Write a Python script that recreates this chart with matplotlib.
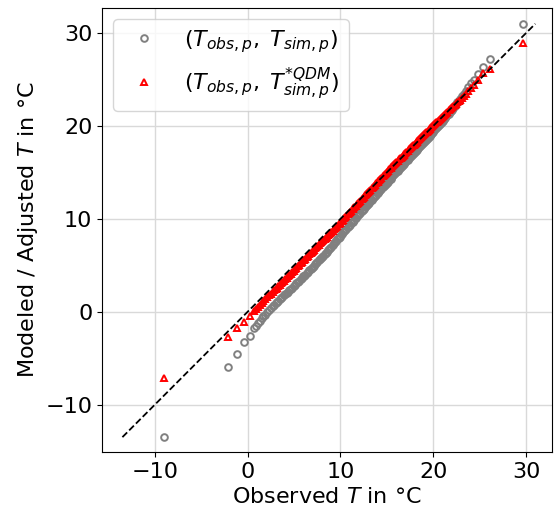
import matplotlib
matplotlib.use("Agg")
import matplotlib.pyplot as plt

obs_q = [-9.0, -2.1, -1.1, -0.4, 0.2,
         0.7, 0.9, 1.1, 1.3, 1.5, 1.7, 1.9, 2.1, 2.3, 2.5, 2.7, 2.85, 3.0, 3.15, 3.3, 3.45,
         3.6, 3.75, 3.9, 4.05, 4.2, 4.35, 4.5, 4.65, 4.8, 4.95, 5.1, 5.25, 5.4, 5.55, 5.7,
         5.85, 6.0, 6.1, 6.2, 6.35, 6.5, 6.65, 6.8, 6.9, 7.0, 7.15, 7.3, 7.4, 7.5, 7.65,
         7.8, 7.9, 8.0, 8.15, 8.3, 8.4, 8.5, 8.65, 8.8, 8.9, 9.0, 9.15, 9.3, 9.4, 9.5,
         9.65, 9.8, 9.9, 10.0, 10.15, 10.3, 10.4, 10.5, 10.65, 10.8, 10.9, 11.0, 11.15,
         11.3, 11.4, 11.5, 11.65, 11.8, 11.9, 12.0, 12.15, 12.3, 12.4, 12.5, 12.65, 12.8,
         12.9, 13.0, 13.1, 13.2, 13.35, 13.5, 13.6, 13.7, 13.85, 14.0, 14.1, 14.2, 14.3,
         14.4, 14.55, 14.7, 14.8, 14.9, 15.0, 15.1, 15.25, 15.4, 15.5, 15.6, 15.7, 15.8,
         15.9, 16.0, 16.15, 16.3, 16.4, 16.5, 16.6, 16.7, 16.8, 16.9, 17.0, 17.1, 17.25,
         17.4, 17.5, 17.6, 17.7, 17.8, 17.9, 18.0, 18.1, 18.2, 18.3, 18.4, 18.5, 18.6,
         18.7, 18.8, 18.9, 19.0, 19.1, 19.2, 19.3, 19.4, 19.5, 19.6, 19.7, 19.8, 19.9,
         20.0, 20.1, 20.2, 20.3, 20.4, 20.5, 20.6, 20.7, 20.8, 20.9, 21.0, 21.15, 21.3,
         21.4, 21.5, 21.65, 21.8, 21.9, 22.0, 22.15, 22.3, 22.45, 22.6, 22.75, 22.9, 23.1,
         23.3, 23.55, 23.8, 24.1, 24.4,
         24.8, 25.4, 26.1, 29.7]

sim_q = [-13.5, -6.0, -4.5, -3.3, -2.6,
         -1.8, -1.52, -1.25, -0.98, -0.7, -0.5, -0.3, -0.08, 0.15, 0.38, 0.6, 0.75, 0.9,
         1.05, 1.2, 1.35, 1.5, 1.62, 1.75, 1.88, 2.0, 2.15, 2.3, 2.45, 2.6, 2.75, 2.9,
         3.05, 3.2, 3.35, 3.5, 3.65, 3.8, 3.9, 4.0, 4.15, 4.3, 4.45, 4.6, 4.7, 4.8, 4.95,
         5.1, 5.22, 5.35, 5.52, 5.7, 5.8, 5.9, 6.05, 6.2, 6.32, 6.45, 6.62, 6.8, 6.9, 7.0,
         7.18, 7.36, 7.48, 7.6, 7.78, 7.96, 8.08, 8.2, 8.38, 8.55, 8.66, 8.78, 8.95, 9.12,
         9.24, 9.35, 9.52, 9.7, 9.81, 9.92, 10.1, 10.27, 10.38, 10.5, 10.68, 10.85, 10.96,
         11.07, 11.25, 11.42, 11.54, 11.65, 11.76, 11.88, 12.05, 12.22, 12.34, 12.45,
         12.62, 12.8, 12.91, 13.02, 13.13, 13.24, 13.4, 13.57, 13.68, 13.79, 13.9, 14.01,
         14.18, 14.34, 14.45, 14.56, 14.67, 14.78, 14.89, 15.0, 15.17, 15.33, 15.44, 15.55,
         15.66, 15.77, 15.88, 15.99, 16.1, 16.21, 16.38, 16.54, 16.65, 16.76, 16.87, 16.98,
         17.09, 17.2, 17.31, 17.42, 17.53, 17.64, 17.75, 17.86, 17.97, 18.08, 18.19, 18.3,
         18.41, 18.52, 18.63, 18.74, 18.85, 18.96, 19.07, 19.18, 19.29, 19.4, 19.52, 19.63,
         19.75, 19.86, 19.98, 20.09, 20.2, 20.32, 20.44, 20.55, 20.73, 20.91, 21.03, 21.15,
         21.33, 21.51, 21.63, 21.75, 21.95, 22.14, 22.34, 22.53, 22.72, 22.92, 23.19,
         23.46, 23.8, 24.15, 24.58, 25.0,
         25.6, 26.3, 27.2, 31.0]

qdm_q = [-7.1, -2.7, -1.7, -1.1, -0.45,
         0.1, 0.31, 0.52, 0.72, 0.93, 1.14, 1.34, 1.55, 1.75, 1.95, 2.15, 2.3, 2.45, 2.6,
         2.75, 2.9, 3.05, 3.2, 3.35, 3.5, 3.65, 3.8, 3.95, 4.1, 4.25, 4.42, 4.6, 4.75, 4.9,
         5.05, 5.2, 5.36, 5.52, 5.62, 5.72, 5.88, 6.03, 6.18, 6.33, 6.44, 6.55, 6.7, 6.85,
         6.96, 7.06, 7.21, 7.36, 7.46, 7.57, 7.72, 7.87, 7.98, 8.08, 8.23, 8.38, 8.48, 8.59,
         8.74, 8.89, 9.0, 9.1, 9.25, 9.4, 9.5, 9.6, 9.77, 9.93, 10.04, 10.15, 10.32, 10.48,
         10.59, 10.7, 10.87, 11.03, 11.14, 11.25, 11.42, 11.58, 11.69, 11.8, 11.97, 12.13,
         12.24, 12.35, 12.52, 12.68, 12.79, 12.9, 13.01, 13.12, 13.29, 13.45, 13.56, 13.67,
         13.84, 14.0, 14.1, 14.21, 14.32, 14.42, 14.58, 14.74, 14.84, 14.95, 15.06, 15.16,
         15.32, 15.47, 15.58, 15.68, 15.78, 15.89, 16.0, 16.1, 16.25, 16.4, 16.5, 16.6,
         16.7, 16.8, 16.9, 17.0, 17.1, 17.2, 17.35, 17.5, 17.6, 17.7, 17.8, 17.9, 18.0,
         18.1, 18.2, 18.3, 18.4, 18.5, 18.6, 18.7, 18.8, 18.9, 19.0, 19.1, 19.2, 19.3,
         19.4, 19.5, 19.6, 19.7, 19.8, 19.9, 20.0, 20.1, 20.2, 20.29, 20.38, 20.48, 20.58,
         20.67, 20.76, 20.86, 20.96, 21.05, 21.2, 21.34, 21.44, 21.53, 21.67, 21.81, 21.9,
         22.0, 22.14, 22.27, 22.4, 22.54, 22.68, 22.81, 23.0, 23.2, 23.48, 23.75, 24.08,
         24.4,
         25.0, 25.7, 26.1, 28.9]

ticks = [-10, 0, 10, 20, 30]

fs = 16
fig = plt.figure(figsize=(5.55, 5.16), dpi=100)
ax = fig.add_axes([102/555, (516-452)/516, 450/555, 444/516])

ax.plot(obs_q, sim_q, 'o', mfc='none', mec='grey', ms=4.8, mew=1.4,
        label=r'$(T_{obs,p},\; T_{sim,p})$', zorder=3)
ax.plot(obs_q, qdm_q, '^', mfc='none', mec='red', ms=4.8, mew=1.4,
        label=r'$(T_{obs,p},\; T^{*QDM}_{sim,p})$', zorder=3)

lo = min(min(obs_q), min(sim_q), min(qdm_q))
hi = max(max(obs_q), max(sim_q), max(qdm_q))
ax.plot([lo, hi], [lo, hi], '--', color='black', lw=1.3, zorder=4)

ax.set_xlim(-15.7, 32.8)
ax.set_ylim(-15.1, 32.7)
ax.set_xticks(ticks)
ax.set_yticks(ticks)
ax.tick_params(labelsize=fs)
ax.grid(True, color='#d9d9d9', lw=1.0)
ax.set_axisbelow(True)
ax.set_xlabel(r'Observed $T$ in °C', fontsize=fs)
ax.set_ylabel(r'Modeled / Adjusted $T$ in °C', fontsize=fs)
ax.legend(loc='upper left', fontsize=fs, framealpha=0.8)

fig.savefig('out.png', dpi=100)
